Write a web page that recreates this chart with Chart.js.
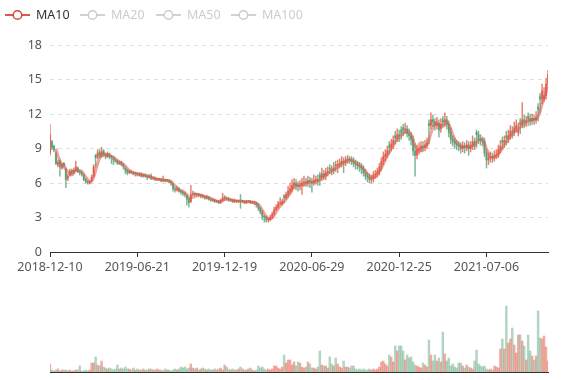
<!DOCTYPE html>
<html><head><meta charset="utf-8">
<script src="https://cdn.jsdelivr.net/npm/chart.js@4.4.1/dist/chart.umd.min.js"></script>
<style>
html,body{margin:0;padding:0;background:#fff;}
#wrap{position:relative;width:577px;height:380px;overflow:hidden;font-family:'Noto Sans',sans-serif;}
#main{position:absolute;left:0;top:0;width:577px;height:280px;}
#vol{position:absolute;left:0;top:280px;width:577px;height:100px;}
.lg{position:absolute;top:7px;height:16px;display:flex;align-items:center;font-size:12.5px;line-height:16px;white-space:nowrap;z-index:2;}
.lg span{margin-left:6px;}
</style></head>
<body><div id="wrap">
<canvas id="main" width="577" height="280"></canvas>
<canvas id="vol" width="577" height="100"></canvas>
<div id="legendBox"></div>
</div>
<script>
// ---- data (each point ~3 trading sessions) ----
const tickLabels = ['2018-12-10','2019-06-21','2019-12-19','2020-06-29','2020-12-25','2021-07-06'];
const tickIdx = [0,44,88,132,176,220];
const legendNames = ['MA10','MA20','MA50','MA100'];
const legendActive = [true,false,false,false];

const openP = [8.6,9.6,9.2,8.6,7.6,7.9,7.3,7.7,7.2,6.4,
6.7,7.1,6.9,7.1,7.3,7.0,6.9,6.7,6.3,6.1,
6.0,6.2,6.6,8.4,8.3,8.7,8.3,8.8,8.5,8.3,
8.5,8.3,8.2,8.0,7.9,7.7,7.8,7.6,7.3,7.1,
6.9,7.0,6.9,6.8,6.8,6.7,6.8,6.6,6.7,6.6,
6.5,6.6,6.4,6.4,6.3,6.3,6.3,6.2,6.3,6.2,
6.2,6.1,5.9,5.5,5.4,5.5,5.3,5.2,5.1,4.9,
4.6,4.4,5.0,5.1,5.0,5.0,4.9,4.9,4.8,4.7,
4.8,4.6,4.5,4.5,4.4,4.4,4.3,4.5,4.7,4.7,
4.6,4.5,4.5,4.4,4.5,4.4,4.5,4.4,4.4,4.3,
4.4,4.4,4.3,4.3,4.3,4.1,3.8,3.5,3.1,3.0,
2.8,2.8,3.0,3.3,3.7,3.9,4.2,4.2,4.9,4.7,
5.0,5.3,5.5,5.8,6.0,5.8,5.7,5.8,6.0,6.1,
6.0,6.2,6.1,6.0,6.2,6.3,6.7,6.5,6.8,6.6,
6.9,7.3,7.2,7.1,7.6,7.5,7.6,7.7,7.9,7.8,
8.0,8.1,8.0,7.9,7.7,7.6,7.5,7.4,7.2,6.9,
6.6,6.5,6.3,6.4,6.7,6.8,7.0,7.4,7.9,8.3,
8.5,9.3,9.1,9.4,10.1,9.9,10.2,10.6,10.8,10.6,
10.7,10.3,10.1,9.8,8.8,8.4,8.9,9.0,9.2,9.1,
9.3,11.2,11.0,11.5,11.3,11.0,11.2,10.7,11.5,11.3,
11.5,11.1,10.4,9.8,9.6,9.4,9.3,9.2,9.0,9.2,
9.1,9.3,9.0,9.2,9.6,10.4,10.2,9.8,9.7,9.6,
8.6,8.0,8.2,8.3,8.2,8.4,8.5,8.9,9.7,9.5,
10.1,9.9,10.1,10.5,10.4,10.8,10.4,11.3,11.1,11.5,
11.3,11.8,11.6,11.4,11.6,11.5,12.6,13.5,13.3,13.3,
13.6,14.6];
const closeP = [10.2,9.1,8.9,7.7,7.8,7.4,7.6,7.5,6.3,6.6,
7.0,6.9,7.1,7.4,7.0,6.9,6.8,6.3,6.1,6.0,
6.1,6.5,7.4,8.2,8.6,8.4,8.7,8.5,8.3,8.5,
8.3,8.2,8.0,7.9,7.7,7.8,7.6,7.4,7.1,6.9,
7.0,6.9,6.8,6.8,6.7,6.8,6.6,6.7,6.6,6.5,
6.6,6.4,6.4,6.3,6.3,6.3,6.2,6.3,6.2,6.2,
6.1,6.0,5.5,5.4,5.5,5.3,5.2,5.1,5.0,4.6,
4.3,5.0,5.1,5.0,5.0,4.9,4.9,4.8,4.7,4.8,
4.6,4.5,4.5,4.4,4.4,4.3,4.5,4.7,4.7,4.6,
4.5,4.5,4.4,4.5,4.4,4.4,4.4,4.4,4.3,4.4,
4.4,4.3,4.3,4.3,4.1,3.8,3.5,3.1,3.0,2.8,
2.8,3.0,3.3,3.7,3.9,4.2,4.2,4.4,4.7,5.0,
5.3,5.5,5.8,6.0,5.8,5.7,5.8,6.0,6.1,6.0,
6.2,6.1,6.0,6.2,6.3,6.2,6.5,6.8,6.6,6.9,
7.0,7.2,7.1,7.3,7.5,7.6,7.7,7.9,7.8,8.0,
8.1,8.0,7.9,7.7,7.6,7.5,7.4,7.2,6.9,6.6,
6.5,6.3,6.4,6.7,6.8,7.0,7.4,7.9,8.3,8.5,
8.8,9.1,9.4,9.7,9.9,10.2,10.1,10.4,10.6,10.7,
10.3,10.1,9.8,8.8,8.4,8.9,9.0,9.2,9.1,9.3,
9.5,11.0,11.5,11.3,11.0,11.2,10.6,11.1,11.3,11.5,
11.1,10.4,9.8,9.6,9.4,9.3,9.2,9.0,9.2,9.1,
9.3,9.0,9.2,9.6,9.3,10.2,9.8,9.7,9.6,8.6,
8.0,8.2,8.3,8.2,8.4,8.5,8.9,9.2,9.5,9.7,
9.9,10.1,10.5,10.4,10.8,11.0,10.6,11.1,11.5,11.3,
11.4,11.6,11.4,11.6,11.5,11.7,12.4,13.3,14.0,13.6,
14.6,15.4];
const highP = [11.1,9.7,9.3,8.7,8.0,8.0,7.7,7.8,7.3,6.8,
7.2,7.2,7.3,7.9,7.4,7.1,7.0,6.8,6.4,6.2,
6.2,6.7,7.6,8.5,8.9,8.9,9.1,8.9,8.6,8.7,
8.6,8.4,8.3,8.1,8.0,7.9,7.9,7.7,7.4,7.2,
7.1,7.1,7.0,6.9,6.9,6.9,6.9,6.8,6.8,6.7,
6.7,6.8,6.5,6.5,6.4,6.4,6.4,6.6,6.3,6.3,
6.3,6.2,6.0,5.6,5.7,5.6,5.4,5.3,5.2,5.0,
4.7,5.8,5.3,5.2,5.1,5.1,5.0,5.0,4.9,4.9,
4.8,4.7,4.6,4.6,4.5,4.5,4.6,5.1,4.9,4.8,
4.7,4.6,4.6,4.6,4.5,4.5,5.0,4.5,4.5,4.5,
4.5,4.5,4.4,4.4,4.3,4.2,3.9,3.6,3.2,3.1,
2.9,3.2,3.5,3.9,4.1,4.4,4.7,4.6,5.0,5.2,
5.7,6.0,6.3,6.4,6.3,6.1,6.2,6.4,6.6,6.4,
6.6,6.5,6.4,6.7,6.6,6.7,6.9,7.3,7.1,7.3,
7.4,7.6,7.5,7.8,7.9,8.0,8.1,8.3,8.2,8.3,
8.4,8.3,8.3,8.2,8.0,7.9,7.8,7.7,7.5,7.2,
6.9,6.8,6.7,7.0,7.1,7.3,7.7,8.2,8.7,8.9,
9.2,9.6,9.8,10.1,10.5,10.7,10.6,10.9,11.1,11.2,
11.0,10.7,10.4,10.1,9.4,9.3,9.5,9.6,9.6,9.7,
9.9,11.5,12.1,11.9,11.6,11.7,11.5,11.6,11.8,12.1,
11.8,11.4,10.8,10.1,9.9,9.7,9.6,9.5,9.6,9.5,
9.7,9.6,9.6,10.1,9.9,10.6,10.5,10.2,10.0,9.9,
8.9,8.6,8.7,8.6,8.8,8.9,9.3,9.7,10.0,10.1,
10.5,10.6,11.0,10.9,11.3,11.5,11.2,11.6,13.0,11.9,
11.8,12.1,12.0,12.0,11.9,12.2,12.9,13.8,14.6,14.3,
15.1,15.8];
const lowP = [8.4,8.9,8.7,7.6,7.4,6.6,7.2,7.3,5.6,6.2,
6.6,6.7,6.8,7.0,6.9,6.7,6.6,6.2,6.0,5.9,
5.9,6.1,6.5,7.4,8.1,8.2,8.2,8.3,8.1,8.2,
8.1,7.7,7.6,7.8,7.6,7.6,7.5,7.2,6.8,6.7,
6.8,6.8,6.7,6.6,6.6,6.6,6.5,6.5,6.5,6.3,
6.4,6.3,6.3,6.2,6.2,6.2,6.1,6.1,6.1,6.1,
6.0,5.8,5.3,5.2,5.3,5.2,5.0,4.9,4.8,4.1,
3.9,4.3,4.9,4.9,4.8,4.8,4.7,4.7,4.6,4.6,
4.5,4.4,4.4,4.3,4.3,4.2,4.2,4.4,4.5,4.5,
4.4,4.4,4.3,4.3,4.3,4.3,3.8,4.3,4.2,4.2,
4.3,4.2,4.2,4.1,3.9,3.6,3.3,2.8,2.6,2.6,
2.6,2.7,2.9,3.2,3.6,3.8,4.1,4.1,4.3,4.6,
4.8,5.0,5.2,5.5,5.4,5.3,5.4,5.0,5.7,5.7,
5.7,5.6,5.2,5.8,5.9,5.8,5.8,6.2,6.3,6.3,
6.6,6.8,6.7,6.8,7.0,6.9,7.3,7.4,6.9,7.5,
7.7,7.7,7.6,7.4,7.2,7.2,7.0,6.8,6.6,6.3,
6.1,6.0,6.0,6.1,6.4,6.5,6.7,7.1,7.6,7.9,
8.2,8.5,8.8,9.0,9.4,9.6,9.6,9.8,10.1,10.3,
10.0,9.7,9.3,8.4,6.6,8.1,8.5,8.7,8.7,8.8,
9.0,9.4,10.7,10.9,10.6,10.7,10.0,10.4,10.8,10.9,
10.7,10.0,9.4,9.2,9.0,8.9,8.8,8.6,8.7,8.6,
8.8,8.4,8.7,8.9,8.9,9.1,9.4,9.3,9.2,8.3,
7.3,7.6,7.8,7.8,7.9,8.1,8.2,8.6,8.9,9.1,
9.3,9.5,9.8,9.9,10.1,10.4,10.1,10.3,10.8,10.8,
10.9,11.0,11.0,11.1,11.1,11.2,11.4,12.1,12.9,13.1,
13.3,14.2];
const volume = [8,2,1,2,3,1,2,2,2,1,
2,1,1,2,2,6,1,1,2,1,
2,9,9,15,7,6,11,5,4,3,
4,3,2,3,7,3,4,3,5,3,
3,2,4,2,3,2,2,3,2,2,
3,3,2,2,3,2,2,1,3,2,
2,1,2,3,2,3,5,4,5,3,
4,8,4,3,4,2,3,4,3,2,
3,2,2,3,2,3,4,2,7,5,
3,2,3,2,2,3,5,3,2,2,
3,4,2,1,2,6,4,5,3,2,
3,2,3,6,6,4,3,5,17,9,
12,12,7,10,6,10,9,5,4,5,
10,8,4,4,3,5,21,7,6,6,
4,15,8,6,14,8,5,4,11,5,
5,4,6,6,3,2,3,2,3,2,
2,3,2,3,2,3,5,10,11,8,
6,17,15,10,26,21,26,26,21,12,
17,14,15,10,7,6,5,4,9,7,
5,32,17,11,17,11,14,10,40,18,
11,14,6,8,5,4,9,9,6,4,
7,5,4,3,11,22,8,6,5,6,
3,2,3,2,6,5,4,23,33,23,
66,29,33,44,27,19,37,37,31,26,
12,37,21,16,12,16,61,34,33,36,
25,11];
const MA_WIN = 4; // 4 points (~3 sessions each) give the lag of a 10-session average

// ---- legend (HTML) ----
const LG_RED = '#d4483c', LG_GRAY = '#cccccc';
const lgLeft = [5, 80, 156, 231];
const box = document.getElementById('legendBox');
legendNames.forEach((n, k) => {
  const c = legendActive[k] ? LG_RED : LG_GRAY;
  const d = document.createElement('div');
  d.className = 'lg';
  d.style.left = lgLeft[k] + 'px';
  d.innerHTML = '<svg width="25" height="14" viewBox="0 0 25 14"><line x1="0" y1="7" x2="25" y2="7" stroke="' + c + '" stroke-width="1.8"/><circle cx="12.5" cy="7" r="4.3" fill="#fff" stroke="' + c + '" stroke-width="1.5"/></svg><span style="color:' + (legendActive[k] ? '#333' : '#ccc') + '">' + n + '</span>';
  box.appendChild(d);
});

// ---- charts ----
Chart.defaults.font.family = "'Noto Sans', sans-serif";
const N = closeP.length;
const idx = closeP.map((_, i) => i);
const isUp = idx.map(i => closeP[i] >= openP[i]);
const UP = 'rgba(224,84,64,0.75)', DOWN = 'rgba(78,155,110,0.75)';
const UPV = 'rgba(228,90,70,0.5)', DOWNV = 'rgba(84,160,118,0.45)';
const candleCol = isUp.map(u => u ? UP : DOWN);
const volCol = isUp.map(u => u ? UPV : DOWNV);
const wick = idx.map(i => ({x: i, y: [lowP[i], highP[i]]}));
const body = idx.map(i => ({x: i, y: [openP[i], closeP[i]]}));
const ma = [];
for (let i = MA_WIN - 1; i < N; i++) {
  let s = 0; for (let k = 0; k < MA_WIN; k++) s += closeP[i - k];
  ma.push({x: i, y: s / MA_WIN});
}

new Chart(document.getElementById('main'), {
  type: 'bar',
  data: {datasets: [
    {type: 'line', label: 'MA10', data: ma, borderColor: 'rgba(222,90,76,0.55)', borderWidth: 3,
     pointRadius: 0, tension: 0.35, fill: false, order: 0},
    {label: 'body', data: body, backgroundColor: candleCol, barThickness: 1.4, grouped: false, minBarLength: 1, order: 1},
    {label: 'wick', data: wick, backgroundColor: candleCol, barThickness: 0.8, grouped: false, order: 2}
  ]},
  options: {
    responsive: false, animation: false, devicePixelRatio: 1,
    layout: {padding: {left: 0, right: 29, top: 45, bottom: 0}},
    plugins: {legend: {display: false}, tooltip: {enabled: false}},
    scales: {
      x: {type: 'linear', min: 0, max: N - 1, offset: false,
        afterBuildTicks: s => { s.ticks = tickIdx.map(v => ({value: v})); },
        afterFit: s => { s.height = 28; },
        grid: {drawOnChartArea: false, drawTicks: true, tickLength: 5, tickColor: '#333', offset: false},
        border: {color: '#333', width: 1},
        ticks: {callback: v => tickLabels[tickIdx.indexOf(v)], color: '#555', font: {size: 12.5},
          padding: 3, maxRotation: 0, autoSkip: false}},
      y: {min: 0, max: 18,
        afterFit: s => { s.width = 50; },
        ticks: {stepSize: 3, color: '#555', padding: 8, font: {size: 12.5}},
        grid: {color: c => (c.tick && c.tick.value === 0) ? 'rgba(0,0,0,0)' : '#e0e0e0', drawTicks: false, tickLength: 0},
        border: {display: false, dash: [4, 4]}}
    }
  }
});

new Chart(document.getElementById('vol'), {
  type: 'bar',
  data: {datasets: [{label: 'Volume', data: idx.map(i => ({x: i, y: volume[i]})), backgroundColor: volCol, barThickness: 1.8}]},
  options: {
    responsive: false, animation: false, devicePixelRatio: 1,
    layout: {padding: {left: 50, right: 29, top: 10, bottom: 7}},
    plugins: {legend: {display: false}, tooltip: {enabled: false}},
    scales: {
      x: {type: 'linear', min: 0, max: N - 1, offset: false,
        afterFit: s => { s.height = 1; },
        ticks: {display: false}, grid: {display: false, drawTicks: false, offset: false},
        border: {display: true, color: '#333', width: 1}},
      y: {display: false, min: 0, max: 82}
    }
  }
});
</script>
</body></html>
